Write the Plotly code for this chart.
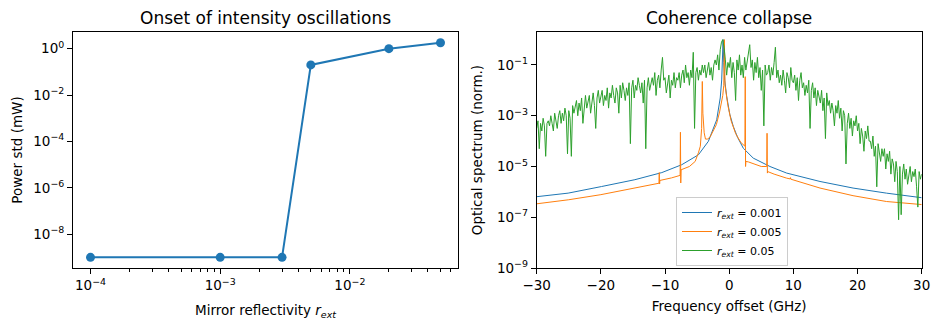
import numpy as np
import plotly.graph_objects as go

# ---------------- data ----------------
# Left panel: onset of intensity oscillations
r_ext = [1e-4, 1e-3, 3e-3, 5e-3, 2e-2, 5e-2]
power_std = [1e-9, 1e-9, 1e-9, 0.2, 1.0, 1.8]

# Right panel: optical spectra (log10 of normalised spectrum)
blue_f = [-30, -25.1, -19.9, -14.7, -10.5, -7.4, -4.8, -3.25, -1.95, -1.4, -1.17, -1.05,
          -0.95, -0.85, -0.7, -0.39, 0.1, 0.64, 1.3, 2.2, 3.75, 6.35, 8.96, 14.15, 19.3, 24.5, 30]
blue_log = [-6.19, -6.05, -5.79, -5.52, -5.24, -4.93, -4.54, -4.01, -3.16, -2.3, -1.59, -0.9,
            0.0, -0.9, -1.6, -2.24, -2.95, -3.42, -3.85, -4.28, -4.67, -5.0, -5.26, -5.59, -5.85, -6.05, -6.23]

orange_f = [-30, -25, -20, -15, -12, -10.95, -10.9, -10.85, -10.8, -9, -7.65, -7.6, -7.55, -7.5,
            -6.2, -5.3, -4.8, -4.5, -4.3, -4.19, -4.1, -3.9, -3.7, -3.4, -3.0, -2.5, -2.0, -1.5,
            -1.2, -1.0, -0.85, -0.75, -0.65, -0.5, -0.2, 0.3, 1.0, 1.8, 2.45, 2.5, 2.55, 2.6, 3.0,
            4.0, 5.0, 5.85, 5.9, 5.95, 6.0, 7.0, 8.96, 9.5, 9.55, 9.6, 14.15, 19.3, 24.5, 30]
orange_log = [-6.47, -6.31, -6.11, -5.85, -5.71, -5.66, -5.24, -5.69, -5.55, -5.45, -5.35, -3.65,
              -5.65, -5.13, -5.0, -4.8, -4.46, -4.2, -3.5, -1.65, -2.9, -3.67, -3.92, -3.92, -3.85,
              -3.6, -3.35, -2.85, -2.45, -2.2, -1.8, 0.0, -1.8, -2.1, -2.6, -3.2, -3.7, -4.05, -4.2,
              -1.46, -5.0, -4.8, -4.82, -4.9, -5.0, -5.0, -3.69, -5.26, -5.2, -5.3, -5.46, -5.49,
              -5.44, -5.5, -5.85, -6.15, -6.38, -6.5]

green_f = np.linspace(-30, 30, 301)
green_log = [
    -3.5, -3.2, -4.3, -3.3, -3.6, -3.1, -3.4, -4.6, -3.3, -3.2,
    -3.4, -3.0, -3.3, -3.6, -2.9, -3.2, -3.5, -3.0, -2.8, -3.3,
    -2.9, -3.2, -2.7, -3.0, -4.5, -2.8, -3.1, -4.6, -2.6, -2.9,
    -2.7, -2.4, -3.0, -2.5, -2.8, -2.3, -3.3, -2.6, -2.2, -2.7,
    -2.5, -2.2, -2.9, -2.4, -2.1, -2.6, -3.5, -2.3, -2.0, -2.5,
    -2.3, -2.0, -2.6, -2.2, -2.4, -1.9, -2.7, -2.1, -2.3, -1.8,
    -2.2, -2.5, -1.9, -2.1, -2.9, -1.8, -2.3, -1.7, -2.0, -2.4,
    -1.9, -2.2, -1.7, -4.1, -1.9, -1.6, -2.3, -1.8, -2.0, -1.5,
    -1.8, -2.1, -1.7, -2.5, -1.6, -4.3, -1.9, -1.5, -2.0, -1.7,
    -1.5, -1.8, -1.3, -2.2, -1.6, -1.4, -1.9, -1.2, -0.7, -1.6,
    -1.5, -2.1, -1.7, -1.4, -2.3, -1.6, -1.8, -1.3, -1.9, -1.5,
    -1.6, -1.3, -1.9, -1.4, -1.2, -1.7, -1.0, -1.5, -1.3, -1.8,
    -1.2, -1.5, -0.5, -3.5, -1.3, -1.1, -1.6, -1.2, -1.4, -1.0,
    -1.3, -1.0, -1.5, -1.2, -0.9, -1.4, -1.1, -1.6, -1.0, -0.8,
    -1.0, -0.6, -1.2, -0.4, -0.1, 0.0, -0.3, -0.8, -1.4, -0.9,
    -1.1, -0.7, -1.5, -0.9, -1.3, -2.4, -0.8, -1.2, -0.6, -1.4,
    -1.0, -1.5, -0.7, -1.2, -0.9, -0.6, -0.2, -1.1, -0.8, -1.6,
    -0.9, -1.3, -0.7, -1.5, -1.1, -2.0, -1.2, -3.4, -1.0, -1.4,
    -1.3, -1.0, -1.6, -1.1, -1.4, -0.9, -0.3, -1.5, -1.2, -1.7,
    -1.4, -1.8, -1.2, -1.6, -2.1, -1.3, -1.5, -1.9, -1.1, -1.6,
    -1.7, -1.4, -2.0, -1.5, -2.4, -1.6, -1.3, -1.9, -1.7, -2.2,
    -1.8, -2.1, -1.6, -3.5, -2.0, -1.7, -2.3, -1.9, -2.6, -2.0,
    -2.2, -2.5, -2.0, -2.8, -2.3, -3.9, -2.1, -2.6, -2.4, -2.9,
    -2.5, -2.8, -3.4, -2.6, -2.9, -2.4, -3.1, -2.7, -3.6, -2.8,
    -3.0, -4.9, -3.3, -2.9, -3.5, -3.1, -3.8, -3.2, -3.4, -3.0,
    -3.6, -3.3, -4.1, -3.5, -3.8, -4.4, -3.6, -3.9, -3.4, -4.0,
    -4.0, -4.3, -3.8, -4.6, -4.2, -5.8, -4.1, -4.5, -4.8, -4.3,
    -4.6, -4.3, -5.1, -4.5, -4.8, -4.4, -5.3, -4.7, -4.9, -5.6,
    -4.8, -5.2, -7.1, -5.0, -6.9, -5.3, -4.9, -5.5, -5.1, -5.7,
    -5.3, -5.0, -5.6, -5.2, -5.4, -5.1, -5.8, -6.6, -5.2, -5.5,
    -5.3,
]

series_names = ["<i>r<sub>ext</sub></i> = 0.001", "<i>r<sub>ext</sub></i> = 0.005", "<i>r<sub>ext</sub></i> = 0.05"]

left_xticks = [1e-4, 1e-3, 1e-2]
left_xticktext = ["10<sup>−4</sup>", "10<sup>−3</sup>", "10<sup>−2</sup>"]
left_yticks = [1e-8, 1e-6, 1e-4, 1e-2, 1e0]
left_yticktext = ["10<sup>−8</sup>", "10<sup>−6</sup>", "10<sup>−4</sup>", "10<sup>−2</sup>", "10<sup>0</sup>"]
right_yticks = [1e-9, 1e-7, 1e-5, 1e-3, 1e-1]
right_yticktext = ["10<sup>−9</sup>", "10<sup>−7</sup>", "10<sup>−5</sup>", "10<sup>−3</sup>", "10<sup>−1</sup>"]
right_xticks = [-30, -20, -10, 0, 10, 20, 30]
right_xticktext = ["−30", "−20", "−10", "0", "10", "20", "30"]

# ---------------- figure ----------------
W, H = 939, 330
FONT = "DejaVu Sans"
BLUE, ORANGE, GREEN = "#1f77b4", "#ff7f0e", "#2ca02c"

fig = go.Figure()

fig.add_trace(go.Scatter(x=r_ext, y=power_std, mode="lines+markers",
                         line=dict(color=BLUE, width=2), marker=dict(color=BLUE, size=9),
                         showlegend=False, xaxis="x", yaxis="y"))

for f, v, c, nm in [(blue_f, blue_log, BLUE, series_names[0]),
                    (orange_f, orange_log, ORANGE, series_names[1]),
                    (green_f, green_log, GREEN, series_names[2])]:
    fig.add_trace(go.Scatter(x=f, y=[10 ** u for u in v], mode="lines",
                             line=dict(color=c, width=1), name=nm,
                             xaxis="x2", yaxis="y2"))

axis_common = dict(showline=True, mirror=True, linecolor="black", linewidth=1,
                   ticks="outside", ticklen=5, tickwidth=1, tickcolor="black",
                   showgrid=False, zeroline=False, automargin=False,
                   tickfont=dict(family=FONT, size=13.5, color="black"))

ydom = [62 / H, 298 / H]
minor_x = [m * 10 ** e for e in (-4, -3, -2) for m in range(2, 10) if m * 10 ** e < 0.07]

fig.update_layout(
    width=W, height=H, margin=dict(l=0, r=0, t=0, b=0, autoexpand=False),
    paper_bgcolor="white", plot_bgcolor="white",
    font=dict(family=FONT, color="black"),
    xaxis=dict(axis_common, type="log", domain=[73 / W, 458 / W], range=[-4.135, -1.166],
               tickvals=left_xticks, ticktext=left_xticktext,
               minor=dict(tickvals=minor_x, ticks="outside", ticklen=3, tickcolor="black", tickwidth=1),
               title=dict(text="Mirror reflectivity <i>r<sub>ext</sub></i>",
                          font=dict(family=FONT, size=13.5), standoff=13),
               anchor="y"),
    yaxis=dict(axis_common, type="log", domain=ydom, range=[-9.46, 0.72],
               tickvals=left_yticks, ticktext=left_yticktext,
               title=dict(text="Power std (mW)", font=dict(family=FONT, size=13.5), standoff=7),
               anchor="x"),
    xaxis2=dict(axis_common, domain=[536.7 / W, 921.7 / W], range=[-30, 30],
                tickvals=right_xticks, ticktext=right_xticktext,
                title=dict(text="Frequency offset (GHz)", font=dict(family=FONT, size=13.5), standoff=9),
                anchor="y2"),
    yaxis2=dict(axis_common, type="log", domain=ydom, range=[-9, 0.3],
                tickvals=right_yticks, ticktext=right_yticktext,
                title=dict(text="Optical spectrum (norm.)", font=dict(family=FONT, size=13.5), standoff=11),
                anchor="x2"),
    legend=dict(x=676 / W, y=1 - 197 / H, xanchor="left", yanchor="top",
                bgcolor="rgba(255,255,255,0.8)", bordercolor="#cccccc", borderwidth=1,
                font=dict(family=FONT, size=11, color="black"),
                itemwidth=30, tracegroupgap=0),
    annotations=[
        dict(text="Onset of intensity oscillations", x=265.5 / W, y=1 - 18 / H,
             xref="paper", yref="paper", xanchor="center", yanchor="middle",
             showarrow=False, font=dict(family=FONT, size=17, color="black")),
        dict(text="Coherence collapse", x=729.2 / W, y=1 - 18 / H,
             xref="paper", yref="paper", xanchor="center", yanchor="middle",
             showarrow=False, font=dict(family=FONT, size=17, color="black")),
    ],
)

fig.write_html("out.html")
